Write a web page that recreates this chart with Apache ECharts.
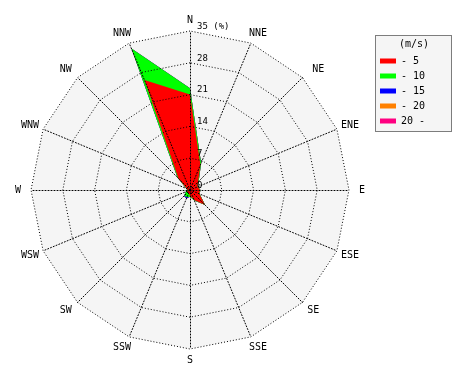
<!DOCTYPE html>
<html><head><meta charset="utf-8">
<script src="https://cdn.jsdelivr.net/npm/echarts@6/dist/echarts.min.js"></script>
<style>html,body{margin:0;padding:0;background:#fff}#c{width:470px;height:380px}</style>
</head><body><div id="c"></div>
<script>
// Compass directions (clockwise from North)
const directions = ['N','NNE','NE','ENE','E','ESE','SE','SSE','S','SSW','SW','WSW','W','WNW','NW','NNW'];
const tickValues = [0, 7, 14, 21, 28, 35];
const speedClasses = ['- 5', '- 10', '- 15', '- 20', '20 -'];
const speedColors = ['#ff0000', '#00ff00', '#0000ff', '#ff8000', '#ff0080'];
// Frequency (%) per direction for each wind-speed class
const speed0to5   = [21.0, 6.0, 2.5, 1.8, 2.2, 2.2, 4.6, 2.4, 1.2, 0.8, 0.8, 0.6, 0.5, 0.8, 3.6, 26.2];
const speed5to10  = [1.4, 0.4, 0.2, 0.1, 0.1, 0.1, 0.1, 0.1, 0.3, 0.9, 1.0, 0.4, 0.1, 0.1, 0.3, 7.5];
const speed10to15 = [0, 0, 0, 0, 0, 0, 0, 0, 0, 0.3, 0.1, 0, 0, 0, 0, 0];
const speed15to20 = [0, 0, 0, 0, 0, 0, 0, 0, 0, 0, 0, 0, 0, 0, 0, 0];
const speed20up   = [0, 0, 0, 0, 0, 0, 0, 0, 0, 0, 0, 0, 0, 0, 0, 0];

// small label nudges (px) per direction, style only
const nameNudge = [[0,0],[3,3],[8,4],[3,1],[2,2],[3,3],[3,0],[3,2],[0,1],[-3,2],[-4,0],[-3,3],[-2,2],[-3,0],[-4,-1],[-3,1]];

const FONT = 'DejaVu Sans Mono';
const classes = [speed0to5, speed5to10, speed10to15, speed15to20, speed20up];
// radar goes counter-clockwise: reorder to N, NNW, NW, ...
const order = [0].concat(directions.slice(1).map((d, i) => directions.length - 1 - i));
const cumulative = classes.map((_, k) => order.map(i => {
  let s = 0; for (let j = 0; j <= k; j++) s += classes[j][i]; return +s.toFixed(2);
}));
const maxV = tickValues[tickValues.length - 1];
const indBase = order.map(i => ({ name: directions[i], min: 0, max: maxV }));
const indTop = order.map((i, j) => {
  const [dx, dy] = nameNudge[i];
  return { name: directions[i], min: 0, max: maxV, axisLabel: { show: j === 0 },
    nameTextStyle: { padding: [Math.max(2 * dy, 0), Math.max(-2 * dx, 0), Math.max(-2 * dy, 0), Math.max(2 * dx, 0)] } };
});
const center = [190, 190], radius = 159;

const data = [];
for (let k = classes.length - 1; k >= 0; k--) {
  data.push({
    name: speedClasses[k], value: cumulative[k],
    itemStyle: { color: speedColors[k] },
    lineStyle: { width: 0, color: speedColors[k] },
    areaStyle: { color: speedColors[k], opacity: 1 }
  });
}

const chart = echarts.init(document.getElementById('c'), null, { renderer: 'canvas' });
chart.setOption({
  animation: false,
  radar: [
    { indicator: indBase, center, radius, startAngle: 90, shape: 'polygon', splitNumber: tickValues.length - 1, z: 0,
      axisName: { show: false }, axisLine: { show: false }, axisTick: { show: false }, axisLabel: { show: false },
      splitLine: { show: false }, splitArea: { show: true, areaStyle: { color: ['#f5f5f5'] } } },
    { indicator: indTop, center, radius, startAngle: 90, shape: 'polygon', splitNumber: tickValues.length - 1, z: 3,
      nameGap: 11,
      axisName: { color: '#000', fontFamily: FONT, fontSize: 10, align: 'center', verticalAlign: 'middle' },
      axisLine: { show: true, lineStyle: { color: '#000', width: 1, type: [1, 2] } },
      axisTick: { show: false },
      axisLabel: { show: false, color: '#000', fontFamily: FONT, fontSize: 9, margin: -7, align: 'left', verticalAlign: 'bottom',
        formatter: v => (v === maxV ? v + ' (%)' : String(v)) },
      splitLine: { show: true, lineStyle: { color: '#000', width: 1, type: [1, 2] } },
      splitArea: { show: false } }
  ],
  legend: {
    orient: 'vertical', left: 380, top: 55.5, padding: 0, itemWidth: 16, itemHeight: 5, itemGap: 4, icon: 'rect',
    selectedMode: false, data: speedClasses,
    textStyle: { fontFamily: FONT, fontSize: 10, lineHeight: 11, color: '#000' }
  },
  graphic: [
    { type: 'rect', shape: { x: 375.5, y: 35.5, width: 76, height: 96 }, z: -1,
      style: { fill: '#f5f5f5', stroke: '#000', lineWidth: 1, lineDash: [1, 1] } },
    { type: 'text', x: 414, y: 44, style: { text: '(m/s)', fontFamily: FONT, fontSize: 10, fill: '#000', align: 'center', verticalAlign: 'middle' } }
  ],
  series: [{ type: 'radar', radarIndex: 0, z: 1, symbol: 'none', silent: true, data }]
});
</script></body></html>
